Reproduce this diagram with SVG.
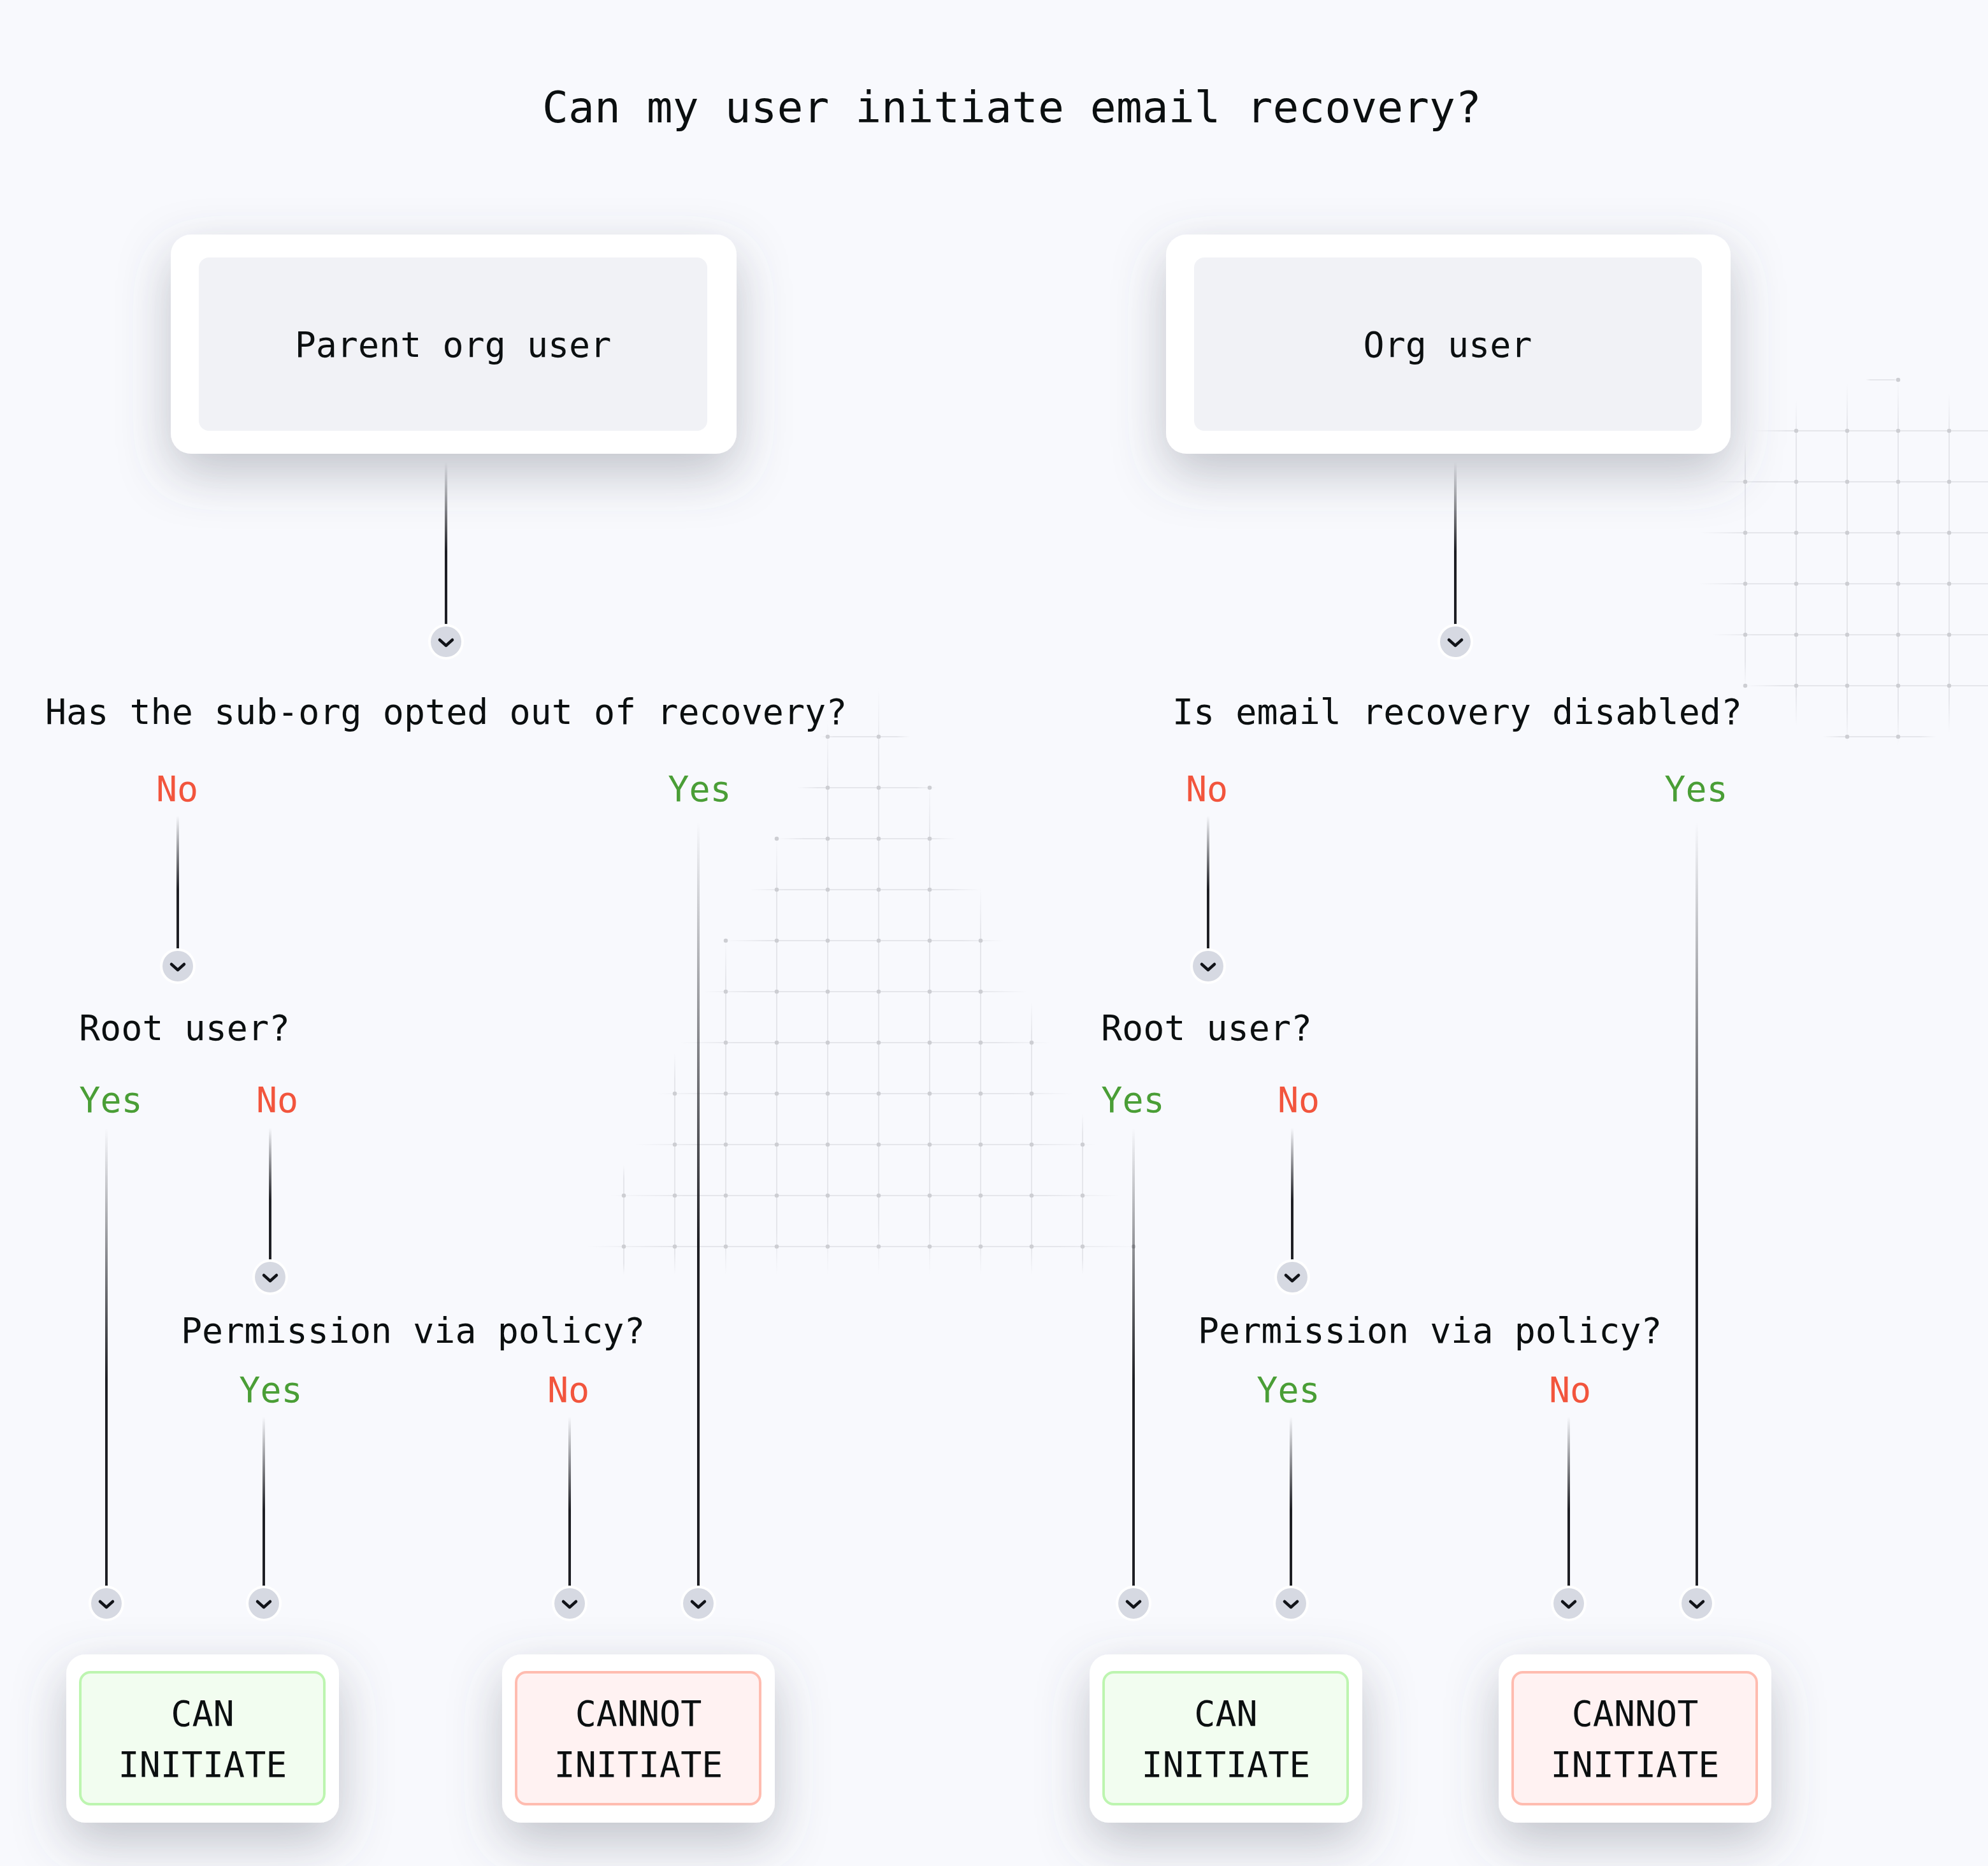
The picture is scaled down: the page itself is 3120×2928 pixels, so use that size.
<svg xmlns="http://www.w3.org/2000/svg" width="3120" height="2928" viewBox="0 0 3120 2928">
<style>
text{font-family:"DejaVu Sans Mono","Liberation Mono",monospace;fill:#0b0f10}
.t{font-size:68px}
.q{font-size:55px}
.lab{font-size:55px;text-anchor:middle}
.yes{fill:#4a9e36}
.no{fill:#f2553d}
.nt{font-size:55px;text-anchor:middle}
.outer{fill:#ffffff}
.inner{fill:#f1f2f6}
.can{fill:#f2fdf0;stroke:#bdf5b0;stroke-width:4}
.cannot{fill:#fff2f2;stroke:#ffbcb0;stroke-width:4}
.conn{fill:url(#fade)}
.gh{fill:url(#hfade)}
.ghl{fill:url(#hfadeL)}
.gv{fill:url(#vfade)}
.dots{fill:none;stroke:#cdced3;stroke-width:6.5;stroke-linecap:round}
</style>
<defs>
<linearGradient id="fade" x1="0" y1="0" x2="0" y2="1">
<stop offset="0" stop-color="#1e1f24" stop-opacity="0"/>
<stop offset="0.55" stop-color="#1e1f24" stop-opacity="1"/>
<stop offset="1" stop-color="#1e1f24" stop-opacity="1"/>
</linearGradient>
<linearGradient id="hfade" x1="0" y1="0" x2="1" y2="0">
<stop offset="0" stop-color="#e5e6eb" stop-opacity="0"/>
<stop offset="0.15" stop-color="#e5e6eb" stop-opacity="1"/>
<stop offset="0.85" stop-color="#e5e6eb" stop-opacity="1"/>
<stop offset="1" stop-color="#e5e6eb" stop-opacity="0"/>
</linearGradient>
<linearGradient id="hfadeL" x1="0" y1="0" x2="1" y2="0">
<stop offset="0" stop-color="#e5e6eb" stop-opacity="0"/>
<stop offset="0.15" stop-color="#e5e6eb" stop-opacity="1"/>
<stop offset="1" stop-color="#e5e6eb" stop-opacity="1"/>
</linearGradient>
<linearGradient id="vfade" x1="0" y1="0" x2="0" y2="1">
<stop offset="0" stop-color="#e5e6eb" stop-opacity="0"/>
<stop offset="0.12" stop-color="#e5e6eb" stop-opacity="1"/>
<stop offset="0.9" stop-color="#e5e6eb" stop-opacity="1"/>
<stop offset="1" stop-color="#e5e6eb" stop-opacity="0"/>
</linearGradient>
<filter id="shadow" x="-30%" y="-40%" width="160%" height="190%">
<feDropShadow dx="0" dy="30" stdDeviation="40" flood-color="#545868" flood-opacity="0.34"/>
</filter>
<g id="chev">
<circle r="28" fill="#ffffff"/>
<circle r="24" fill="#d6d9e2"/>
<path d="M-10 -3 L0 6 L10 -3" fill="none" stroke="#111318" stroke-width="4.5" stroke-linecap="round" stroke-linejoin="round"/>
</g>
</defs>
<rect width="3120" height="2928" fill="#f8f9fd"/>

<g id="grid-middle">
<rect class="gh" x="1287" y="1155" width="141" height="2"/>
<rect class="gh" x="1251" y="1235" width="219" height="2"/>
<rect class="gh" x="1220" y="1315" width="281" height="2"/>
<rect class="gh" x="1177" y="1395" width="362" height="2"/>
<rect class="gh" x="1139" y="1475" width="436" height="2"/>
<rect class="gh" x="1104" y="1555" width="508" height="2"/>
<rect class="gh" x="1066" y="1635" width="583" height="2"/>
<rect class="gh" x="1031" y="1715" width="654" height="2"/>
<rect class="gh" x="995" y="1795" width="727" height="2"/>
<rect class="gh" x="957" y="1875" width="801" height="2"/>
<rect class="gh" x="921" y="1955" width="869" height="2"/>
<rect class="gv" x="978" y="1828" width="2" height="172"/>
<rect class="gv" x="1058" y="1652" width="2" height="348"/>
<rect class="gv" x="1138" y="1476" width="2" height="524"/>
<rect class="gv" x="1218" y="1314" width="2" height="686"/>
<rect class="gv" x="1298" y="1132" width="2" height="868"/>
<rect class="gv" x="1378" y="1080" width="2" height="920"/>
<rect class="gv" x="1458" y="1224" width="2" height="776"/>
<rect class="gv" x="1538" y="1393" width="2" height="607"/>
<rect class="gv" x="1618" y="1572" width="2" height="428"/>
<rect class="gv" x="1698" y="1748" width="2" height="252"/>
<path class="dots" d="M1299 1156h0M1379 1156h0
M1299 1236h0M1379 1236h0M1459 1236h0
M1219 1316h0M1299 1316h0M1379 1316h0M1459 1316h0
M1219 1396h0M1299 1396h0M1379 1396h0M1459 1396h0
M1139 1476h0M1219 1476h0M1299 1476h0M1379 1476h0M1459 1476h0M1539 1476h0
M1139 1556h0M1219 1556h0M1299 1556h0M1379 1556h0M1459 1556h0M1539 1556h0
M1139 1636h0M1219 1636h0M1299 1636h0M1379 1636h0M1459 1636h0M1539 1636h0M1619 1636h0
M1059 1716h0M1139 1716h0M1219 1716h0M1299 1716h0M1379 1716h0M1459 1716h0M1539 1716h0M1619 1716h0
M1059 1796h0M1139 1796h0M1219 1796h0M1299 1796h0M1379 1796h0M1459 1796h0M1539 1796h0M1619 1796h0M1699 1796h0
M979 1876h0M1059 1876h0M1139 1876h0M1219 1876h0M1299 1876h0M1379 1876h0M1459 1876h0M1539 1876h0M1619 1876h0M1699 1876h0
M979 1956h0M1059 1956h0M1139 1956h0M1219 1956h0M1299 1956h0M1379 1956h0M1459 1956h0M1539 1956h0M1619 1956h0M1699 1956h0M1779 1956h0"/>
</g>

<g id="grid-topright">
<rect class="gh" x="2928" y="595" width="51" height="2"/>
<rect class="ghl" x="2751" y="675" width="369" height="2"/>
<rect class="ghl" x="2694" y="755" width="426" height="2"/>
<rect class="ghl" x="2668" y="835" width="452" height="2"/>
<rect class="ghl" x="2666" y="915" width="454" height="2"/>
<rect class="ghl" x="2687" y="995" width="433" height="2"/>
<rect class="ghl" x="2739" y="1075" width="381" height="2"/>
<rect class="gh" x="2861" y="1155" width="178" height="2"/>
<rect class="gv" x="2738" y="689" width="2" height="387"/>
<rect class="gv" x="2818" y="628" width="2" height="511"/>
<rect class="gv" x="2898" y="601" width="2" height="565"/>
<rect class="gv" x="2978" y="597" width="2" height="572"/>
<rect class="gv" x="3058" y="616" width="2" height="534"/>
<path class="dots" d="M2979 596h0
M2819 676h0M2899 676h0M2979 676h0M3059 676h0
M2739 756h0M2819 756h0M2899 756h0M2979 756h0M3059 756h0
M2739 836h0M2819 836h0M2899 836h0M2979 836h0M3059 836h0
M2739 916h0M2819 916h0M2899 916h0M2979 916h0M3059 916h0
M2739 996h0M2819 996h0M2899 996h0M2979 996h0M3059 996h0
M2739 1076h0M2819 1076h0M2899 1076h0M2979 1076h0M3059 1076h0
M2899 1156h0M2979 1156h0"/>
</g>

<text id="title" class="t" x="1588" y="192" text-anchor="middle">Can my user initiate email recovery?</text>

<g id="connectors">
<rect class="conn" x="698" y="725" width="4" height="255"/>
<rect class="conn" x="277" y="1280" width="4" height="210"/>
<rect class="conn" x="1094" y="1290" width="4" height="1200"/>
<rect class="conn" x="165" y="1770" width="4" height="720"/>
<rect class="conn" x="422" y="1770" width="4" height="207"/>
<rect class="conn" x="412" y="2223" width="4" height="267"/>
<rect class="conn" x="892" y="2223" width="4" height="267"/>
<rect class="conn" x="2282" y="725" width="4" height="255"/>
<rect class="conn" x="1894" y="1280" width="4" height="210"/>
<rect class="conn" x="2661" y="1290" width="4" height="1200"/>
<rect class="conn" x="1777" y="1770" width="4" height="720"/>
<rect class="conn" x="2026" y="1770" width="4" height="207"/>
<rect class="conn" x="2024" y="2223" width="4" height="267"/>
<rect class="conn" x="2460" y="2223" width="4" height="267"/>
<use href="#chev" x="700" y="1007"/>
<use href="#chev" x="279" y="1516"/>
<use href="#chev" x="1096" y="2516"/>
<use href="#chev" x="167" y="2516"/>
<use href="#chev" x="424" y="2004"/>
<use href="#chev" x="414" y="2516"/>
<use href="#chev" x="894" y="2516"/>
<use href="#chev" x="2284" y="1007"/>
<use href="#chev" x="1896" y="1516"/>
<use href="#chev" x="2663" y="2516"/>
<use href="#chev" x="1779" y="2516"/>
<use href="#chev" x="2028" y="2004"/>
<use href="#chev" x="2026" y="2516"/>
<use href="#chev" x="2462" y="2516"/>
</g>

<g id="node-parent">
<rect class="outer" x="268" y="368" width="888" height="344" rx="32" filter="url(#shadow)"/>
<rect class="inner" x="312" y="404" width="798" height="272" rx="16"/>
<text class="nt" x="711" y="560">Parent org user</text>
</g>
<g id="node-org">
<rect class="outer" x="1830" y="368" width="886" height="344" rx="32" filter="url(#shadow)"/>
<rect class="inner" x="1874" y="404" width="797" height="272" rx="16"/>
<text class="nt" x="2272" y="560">Org user</text>
</g>

<g id="q-left-1">
<text class="q" x="71" y="1136">Has the sub-org opted out of recovery?</text>
<text class="lab no" x="278" y="1257">No</text>
<text class="lab yes" x="1098" y="1257">Yes</text>
</g>
<g id="q-left-2">
<text class="q" x="124" y="1632">Root user?</text>
<text class="lab yes" x="174" y="1745">Yes</text>
<text class="lab no" x="435" y="1745">No</text>
</g>
<g id="q-left-3">
<text class="q" x="284" y="2107">Permission via policy?</text>
<text class="lab yes" x="425" y="2200">Yes</text>
<text class="lab no" x="892" y="2200">No</text>
</g>
<g id="q-right-1">
<text class="q" x="1840" y="1136">Is email recovery disabled?</text>
<text class="lab no" x="1894" y="1257">No</text>
<text class="lab yes" x="2662" y="1257">Yes</text>
</g>
<g id="q-right-2">
<text class="q" x="1728" y="1632">Root user?</text>
<text class="lab yes" x="1778" y="1745">Yes</text>
<text class="lab no" x="2038" y="1745">No</text>
</g>
<g id="q-right-3">
<text class="q" x="1880" y="2107">Permission via policy?</text>
<text class="lab yes" x="2022" y="2200">Yes</text>
<text class="lab no" x="2464" y="2200">No</text>
</g>

<g id="result-left-can">
<rect class="outer" x="104" y="2596" width="428" height="264" rx="30" filter="url(#shadow)"/>
<rect class="can" x="126" y="2624" width="383" height="207" rx="16"/>
<text class="nt" x="318" y="2708">CAN</text>
<text class="nt" x="318" y="2788">INITIATE</text>
</g>
<g id="result-left-cannot">
<rect class="outer" x="788" y="2596" width="428" height="264" rx="30" filter="url(#shadow)"/>
<rect class="cannot" x="810" y="2624" width="383" height="207" rx="16"/>
<text class="nt" x="1002" y="2708">CANNOT</text>
<text class="nt" x="1002" y="2788">INITIATE</text>
</g>
<g id="result-right-can">
<rect class="outer" x="1710" y="2596" width="428" height="264" rx="30" filter="url(#shadow)"/>
<rect class="can" x="1732" y="2624" width="383" height="207" rx="16"/>
<text class="nt" x="1924" y="2708">CAN</text>
<text class="nt" x="1924" y="2788">INITIATE</text>
</g>
<g id="result-right-cannot">
<rect class="outer" x="2352" y="2596" width="428" height="264" rx="30" filter="url(#shadow)"/>
<rect class="cannot" x="2374" y="2624" width="383" height="207" rx="16"/>
<text class="nt" x="2566" y="2708">CANNOT</text>
<text class="nt" x="2566" y="2788">INITIATE</text>
</g>
</svg>
